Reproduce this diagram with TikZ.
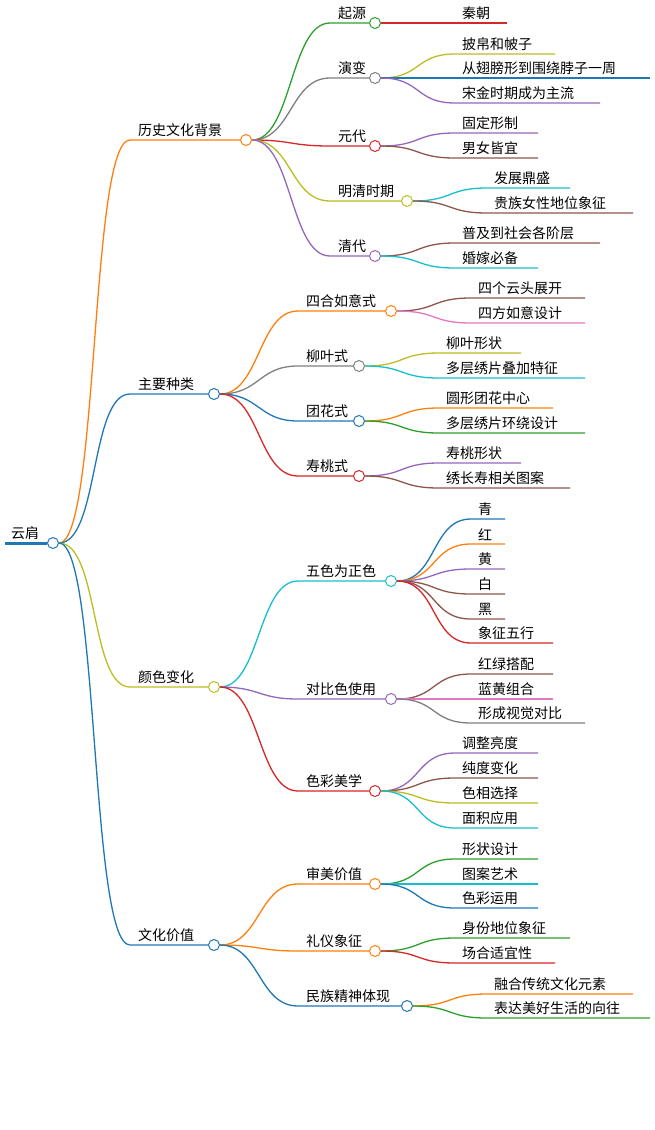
\documentclass[tikz,border=0pt]{standalone}
\usepackage{fontspec}
\newfontfamily\cjk{Noto Sans CJK SC}
\usetikzlibrary{calc}
\definecolor{cblue}{HTML}{1F77B4}
\definecolor{corange}{HTML}{FF7F0E}
\definecolor{cgreen}{HTML}{2CA02C}
\definecolor{cred}{HTML}{D62728}
\definecolor{cpurple}{HTML}{9467BD}
\definecolor{cbrown}{HTML}{8C564B}
\definecolor{cpink}{HTML}{E377C2}
\definecolor{cgray}{HTML}{7F7F7F}
\definecolor{colive}{HTML}{BCBD22}
\definecolor{ccyan}{HTML}{17BECF}
\tikzset{
  mmtext/.style={anchor=south west, inner sep=1pt, font=\cjk\fontsize{14}{16}\selectfont},
  mmdot/.style={circle, draw=#1, fill=white, line width=1pt, minimum size=11pt, inner sep=0pt},
  mmline/.style={draw=#1, line width=1.3pt}
}
% parent, name, x0, x1, y, colour, text
\newcommand\mmnode[7]{
  \coordinate (#2s) at (#3,#5);
  \draw[mmline=#6] (#1.east) .. controls ($(#1.east)+(40,0)$) and ($(#2s)-(40,0)$) .. (#2s) -- (#4,#5);
  \node[mmtext] (#2t) at ($(#2s)+(7,-2)$) {#7};
  \node[mmdot=#6] (#2) at (#4+6,#5) {};
}
\newcommand\mmleaf[7]{
  \coordinate (#2s) at (#3,#5);
  \coordinate (#2) at (#4,#5);
  \draw[mmline=#6] (#1.east) .. controls ($(#1.east)+(40,0)$) and ($(#2s)-(40,0)$) .. (#2s) -- (#2);
  \node[mmtext] (#2t) at ($(#2s)+(6,-2)$) {#7};
}
\begin{document}
\begin{tikzpicture}[x=1pt, y=-1pt]
  \useasboundingbox (0,0) rectangle (655,1130);
  % root
  \draw[draw=cblue, line width=3pt] (5,543) -- (47,543);
  \node[mmtext] (roott) at (10,541) {云肩};
  \node[mmdot=cblue] (root) at (53,543) {};

  % history
  \mmnode{root}{hist}{130}{240}{140}{corange}{历史文化背景}
  \mmnode{hist}{qy}{330}{369}{23}{cgreen}{起源}
  \mmleaf{qy}{qc}{455}{507}{23}{cred}{秦朝}
  \mmnode{hist}{yb}{330}{369}{78}{cgray}{演变}
  \mmleaf{yb}{yb1}{455}{555}{54}{colive}{披帛和帔子}
  \mmleaf{yb}{yb2}{455}{650}{78}{cblue}{从翅膀形到围绕脖子一周}
  \mmleaf{yb}{yb3}{455}{600}{103}{cpurple}{宋金时期成为主流}
  \mmnode{hist}{yd}{330}{369}{146}{cred}{元代}
  \mmleaf{yd}{yd1}{455}{538}{133}{cpurple}{固定形制}
  \mmleaf{yd}{yd2}{455}{538}{158}{cbrown}{男女皆宜}
  \mmnode{hist}{mq}{330}{401}{201}{colive}{明清时期}
  \mmleaf{mq}{mq1}{487}{570}{188}{ccyan}{发展鼎盛}
  \mmleaf{mq}{mq2}{487}{633}{213}{cbrown}{贵族女性地位象征}
  \mmnode{hist}{qd}{330}{369}{256}{cpurple}{清代}
  \mmleaf{qd}{qd1}{455}{600}{243}{cbrown}{普及到社会各阶层}
  \mmleaf{qd}{qd2}{455}{538}{268}{ccyan}{婚嫁必备}

  % kinds
  \mmnode{root}{kind}{130}{208}{394}{cblue}{主要种类}
  \mmnode{kind}{sh}{298}{385}{311}{corange}{四合如意式}
  \mmleaf{sh}{sh1}{471}{585}{298}{cbrown}{四个云头展开}
  \mmleaf{sh}{sh2}{471}{585}{323}{cpink}{四方如意设计}
  \mmnode{kind}{ly}{298}{353}{366}{cgray}{柳叶式}
  \mmleaf{ly}{ly1}{439}{521}{353}{colive}{柳叶形状}
  \mmleaf{ly}{ly2}{439}{585}{378}{ccyan}{多层绣片叠加特征}
  \mmnode{kind}{th}{298}{353}{421}{cblue}{团花式}
  \mmleaf{th}{th1}{439}{553}{408}{corange}{圆形团花中心}
  \mmleaf{th}{th2}{439}{585}{433}{cgreen}{多层绣片环绕设计}
  \mmnode{kind}{st}{298}{353}{476}{cred}{寿桃式}
  \mmleaf{st}{st1}{439}{521}{463}{cpurple}{寿桃形状}
  \mmleaf{st}{st2}{439}{570}{488}{cbrown}{绣长寿相关图案}

  % colours
  \mmnode{root}{col}{130}{208}{687}{colive}{颜色变化}
  \mmnode{col}{ws}{298}{385}{581}{ccyan}{五色为正色}
  \mmleaf{ws}{ws1}{471}{505}{519}{cblue}{青}
  \mmleaf{ws}{ws2}{471}{505}{544}{corange}{红}
  \mmleaf{ws}{ws3}{471}{505}{569}{cpurple}{黄}
  \mmleaf{ws}{ws4}{471}{505}{594}{cbrown}{白}
  \mmleaf{ws}{ws5}{471}{505}{619}{cbrown}{黑}
  \mmleaf{ws}{ws6}{471}{553}{643}{cred}{象征五行}
  \mmnode{col}{db}{298}{385}{699}{cpurple}{对比色使用}
  \mmleaf{db}{db1}{471}{553}{674}{cbrown}{红绿搭配}
  \mmleaf{db}{db2}{471}{553}{699}{cpink}{蓝黄组合}
  \mmleaf{db}{db3}{471}{585}{723}{cgray}{形成视觉对比}
  \mmnode{col}{sc}{298}{369}{791}{cred}{色彩美学}
  \mmleaf{sc}{sc1}{455}{538}{753}{cpurple}{调整亮度}
  \mmleaf{sc}{sc2}{455}{538}{778}{cbrown}{纯度变化}
  \mmleaf{sc}{sc3}{455}{538}{803}{colive}{色相选择}
  \mmleaf{sc}{sc4}{455}{538}{828}{ccyan}{面积应用}

  % value
  \mmnode{root}{val}{130}{208}{945}{cblue}{文化价值}
  \mmnode{val}{sm}{298}{369}{884}{corange}{审美价值}
  \mmleaf{sm}{sm1}{455}{538}{859}{cgreen}{形状设计}
  \mmleaf{sm}{sm2}{455}{538}{884}{ccyan}{图案艺术}
  \mmleaf{sm}{sm3}{455}{538}{908}{cblue}{色彩运用}
  \mmnode{val}{ly2}{298}{369}{951}{corange}{礼仪象征}
  \mmleaf{ly2}{lyx1}{455}{570}{938}{cgreen}{身份地位象征}
  \mmleaf{ly2}{lyx2}{455}{555}{963}{cred}{场合适宜性}
  \mmnode{val}{mz}{298}{401}{1006}{cblue}{民族精神体现}
  \mmleaf{mz}{mz1}{487}{633}{994}{corange}{融合传统文化元素}
  \mmleaf{mz}{mz2}{487}{650}{1018}{cgreen}{表达美好生活的向往}
\end{tikzpicture}
\end{document}
